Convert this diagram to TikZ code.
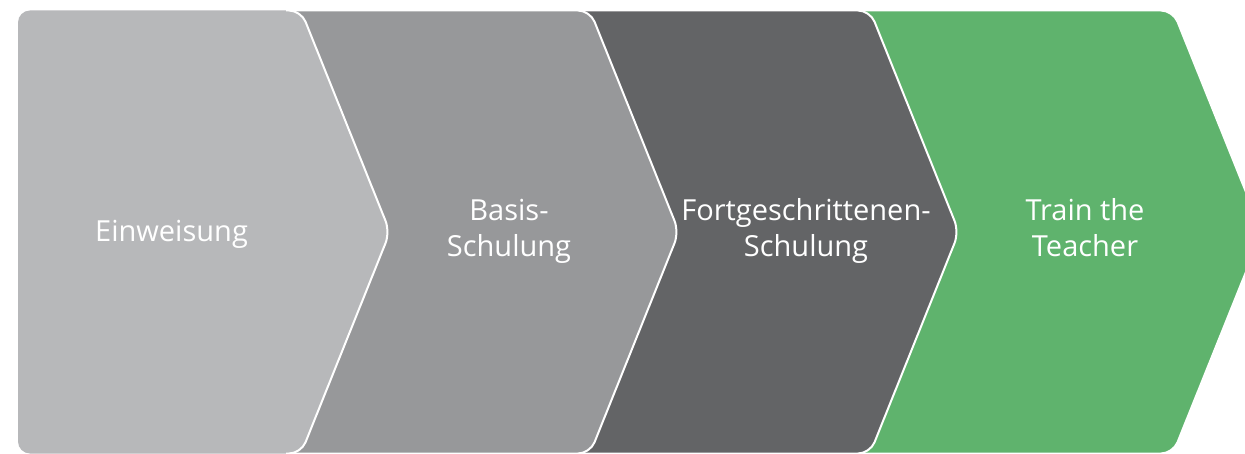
\documentclass[tikz,border=0pt]{standalone}
\usepackage{fontspec}
\setmainfont{Open Sans}
\definecolor{cone}{HTML}{B7B8BA}
\definecolor{ctwo}{HTML}{97989A}
\definecolor{cthree}{HTML}{636466}
\definecolor{cfour}{HTML}{5FB36D}
\tikzset{
  chev/.style={draw=white, line width=2pt, rounded corners=12pt, line join=round},
  lbl/.style={text=white, font=\fontsize{29}{36}\selectfont, align=center, anchor=base, inner sep=0pt}
}
\begin{document}
\begin{tikzpicture}[x=1pt,y=-1pt]
\useasboundingbox (0,0) rectangle (1245,454);
\clip (0,0) rectangle (1245,454);
\fill[white] (0,0) rectangle (1245,454);
% green (back)
\path[chev, fill=cfour] (850,10.5) -- (1173,10.5) -- (1262,232) -- (1173,453.5) -- (850,453.5) -- cycle;
\path[chev, fill=cthree] (560,10.5) -- (870,10.5) -- (959,232) -- (870,453.5) -- (560,453.5) -- cycle;
\path[chev, fill=ctwo] (280,10.5) -- (590,10.5) -- (679,232) -- (590,453.5) -- (280,453.5) -- cycle;
\path[rounded corners=12pt, fill=cone] (18,10.5) -- (301,10.5) -- (390,232) -- (301,453.5) -- (18,453.5) -- cycle;
\draw[draw=white, line width=2pt, rounded corners=12pt, line join=round] (286,10.5) -- (301,10.5) -- (390,232) -- (301,453.5) -- (286,453.5);
\node[lbl] (t1) at (171.5,242) {Einweisung};
\node[lbl] (t2) at (509,256.5) {Basis-\\Schulung};
\node[lbl] (t3) at (806,256.5) {Fortgeschrittenen-\\Schulung};
\node[lbl] (t4) at (1085,256.5) {Train the\\Teacher};
\end{tikzpicture}
\end{document}
